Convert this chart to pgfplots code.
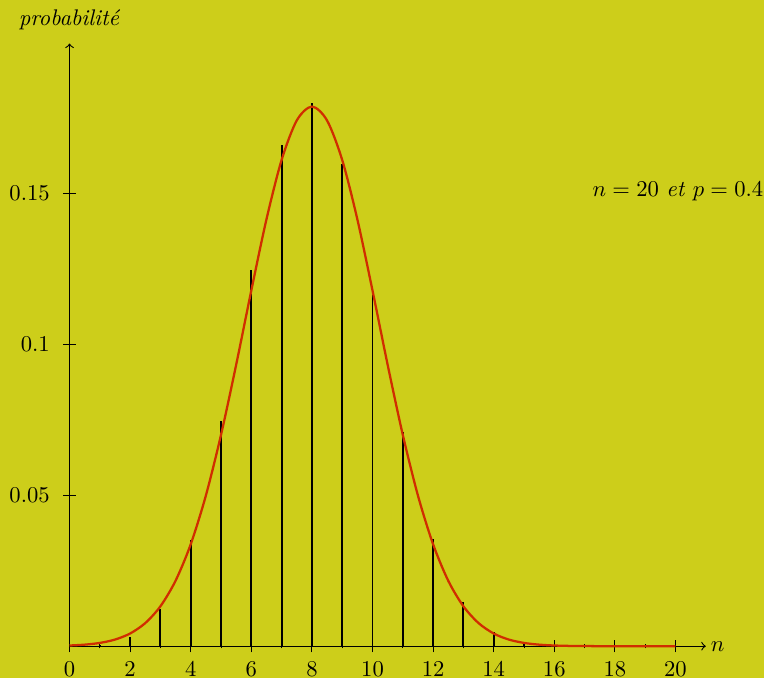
\documentclass[border=0pt]{standalone}
\usepackage{xcolor}
\usepackage{pgfplots}
\pgfplotsset{compat=1.18}
\definecolor{bg}{RGB}{205,206,26}
\definecolor{curve}{RGB}{208,45,0}
\pagecolor{bg}
\begin{document}
\begin{tikzpicture}
\begin{axis}[
  scale only axis,
  x=13.4pt, y=1336pt,
  xmin=0, xmax=21, ymin=0, ymax=0.1995,
  axis lines=middle,
  axis line style={-to, line width=0.5pt},
  xtick={0,2,...,20},
  minor xtick={1,3,...,19},
  ytick={0.05,0.1,0.15},
  yticklabels={0.05,0.1,0.15},
  yticklabel style={xshift=-2.5pt},
  xticklabel style={inner sep=0pt, anchor=north, yshift=-4pt},
  hide obscured x ticks=false,
  tick style={black, line width=0.4pt},
  major tick length=5.5pt, minor tick length=2pt,
  tick align=center,
  xlabel={$n$},
  ylabel={\textit{probabilit\'e}},
  xlabel style={at={(axis description cs:1,0)}, anchor=west, inner sep=2pt},
  ylabel style={at={(axis description cs:0,1)}, anchor=south, rotate=0, inner sep=6pt},
  clip=false,
]
\coordinate (O) at (axis cs:0,0);
\addplot[ycomb, black, line width=0.85pt] coordinates {
(0,0.0000366) (1,0.000487) (2,0.003087) (3,0.012350) (4,0.034991)
(5,0.074647) (6,0.124412) (7,0.165882) (8,0.179706) (9,0.159738)
(10,0.117142) (11,0.070995) (12,0.035497) (13,0.014563) (14,0.004854)
(15,0.001294) (16,0.000270) (17,0.0000423) (18,0.0000047) (19,0.0000003) (20,0.0000000)
};
\addplot[smooth, curve, line width=1pt] coordinates {
(0,0.000228) (0.5,0.000510) (1,0.001085) (1.5,0.002191) (2,0.004201)
(2.5,0.007652) (3,0.013214) (3.5,0.021668) (4,0.033740) (4.5,0.049863)
(5,0.069958) (5.5,0.093158) (6,0.117760) (6.5,0.141316) (7,0.160960)
(7.5,0.174039) (8,0.178630) (8.5,0.174039) (9,0.160960) (9.5,0.141316)
(10,0.117760) (10.5,0.093158) (11,0.069958) (11.5,0.049863) (12,0.033740)
(12.5,0.021668) (13,0.013214) (13.5,0.007652) (14,0.004201) (14.5,0.002191)
(15,0.001085) (15.5,0.000510) (16,0.000228) (16.5,0.000096) (17,0.000038)
(17.5,0.000015) (18,0.000005) (19,0.0000005) (20,0.0000001)
};
\node[anchor=west, inner sep=0pt] at (axis cs:17.25,0.1507) {$n=20$ \textit{et} $p=0.4$};
\end{axis}
\pgfresetboundingbox
\useasboundingbox ([shift={(-30.75pt,-14pt)}]O) rectangle ([shift={(307.15pt,285.8pt)}]O);
\end{tikzpicture}
\end{document}
